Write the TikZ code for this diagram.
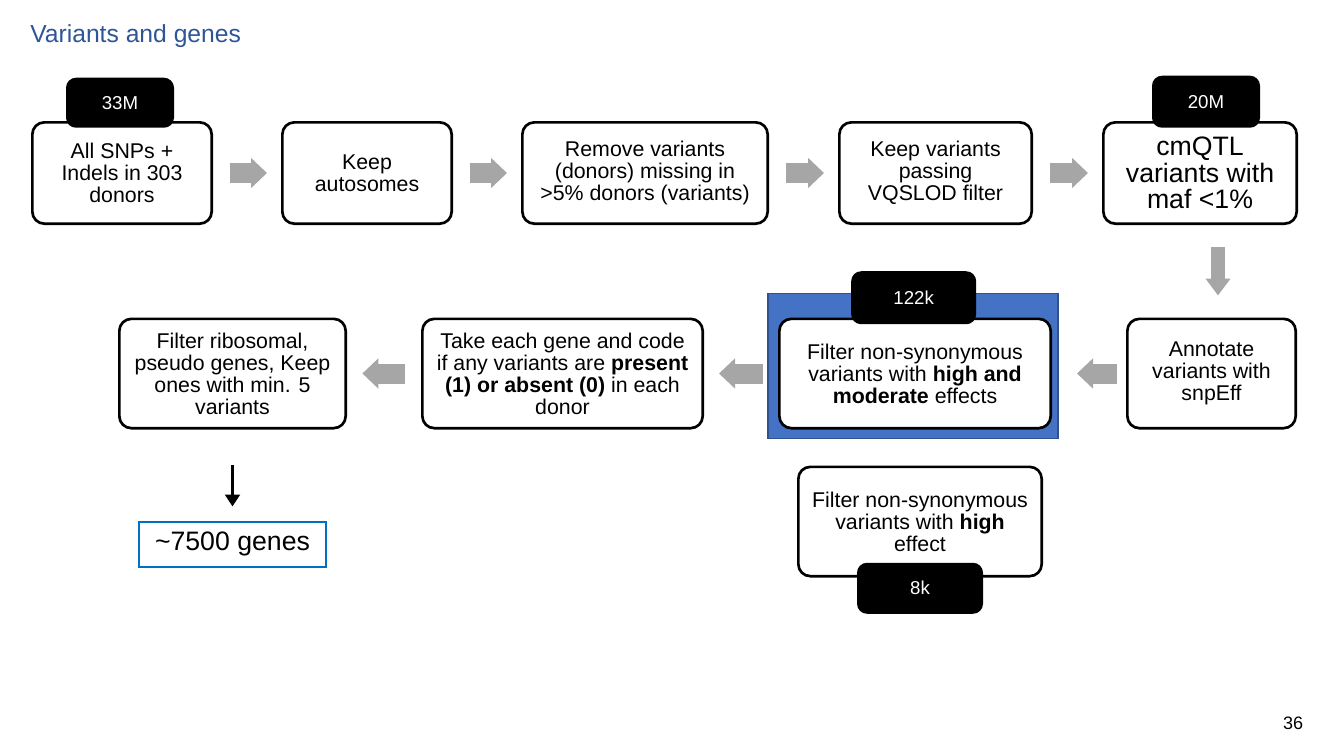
\documentclass[tikz,border=0pt]{standalone}
\usepackage{fontspec}
\setmainfont{Liberation Sans}
\usepackage{xcolor}
\definecolor{titleblue}{HTML}{2F5597}
\definecolor{arrowgray}{HTML}{A6A6A6}
\definecolor{panelblue}{HTML}{4472C4}
\definecolor{paneledge}{HTML}{2F528F}
\definecolor{genesblue}{HTML}{0070C0}
\usepackage{tikz}
\usetikzlibrary{arrows.meta,positioning,calc,backgrounds}
\tikzset{
  stepbox/.style={draw=black, fill=white, line width=2pt, rounded corners=9pt,
                  align=center, inner sep=2pt, minimum height=76pt,
                  font=\fontsize{16}{16.5}\selectfont},
  rowtwo/.style={stepbox, minimum height=82pt},
  tagbox/.style={fill=black, text=white, rounded corners=7.5pt,
                 minimum width=81pt, minimum height=37.5pt,
                 font=\fontsize{14}{14}\selectfont},
  genesbox/.style={draw=genesblue, line width=1.5pt, fill=white,
                   minimum width=140.25pt, minimum height=33.75pt,
                   font=\fontsize{20}{20}\selectfont},
  panel/.style={fill=panelblue, draw=paneledge, line width=0.8pt},
  garrow/.style={draw=arrowgray, line width=15pt, -{Triangle[length=12pt, width=22pt]}},
  garrowv/.style={draw=arrowgray, line width=10.5pt, -{Triangle[length=12.75pt, width=18pt]}},
  karrow/.style={draw=black, line width=2.25pt, -{Triangle[length=9pt, width=11pt]}},
}

\begin{document}
\begin{tikzpicture}[x=0.75pt, y=-0.75pt, node distance=51pt]
  \useasboundingbox (0,0) rectangle (1333,750);
  \node[anchor=base west, inner sep=0pt, text=titleblue,
        font=\fontsize{18.5}{20}\selectfont] (title) at (30,42) {Variants and genes};

  % first row
  \node[stepbox, minimum width=134.5pt] (all) at (122,173) {All SNPs +\\Indels in 303\\donors};
  \node[stepbox, minimum width=127pt, right=of all] (auto) {Keep\\autosomes};
  \node[stepbox, minimum width=184pt, right=of auto] (miss) {Remove variants\\(donors) missing in\\>5\% donors (variants)};
  \node[stepbox, minimum width=144.25pt, right=51.75pt of miss] (vqs) {Keep variants\\passing\\VQSLOD filter};
  \node[stepbox, minimum width=145pt, right=51.75pt of vqs,
        font=\fontsize{20}{20}\selectfont] (maf) {cmQTL\\variants with\\maf <1\%};

  % second row, right to left
  \node[rowtwo, minimum width=126.25pt] (snp) at (1211.5,373.5) {Annotate\\variants with\\snpEff};
  \node[rowtwo, minimum width=203.5pt, left=55.5pt of snp] (mod) {Filter non-synonymous\\variants with \textbf{high and}\\\textbf{moderate} effects};
  \node[rowtwo, minimum width=210.25pt, left=55.5pt of mod] (code) {Take each gene and code\\if any variants are \textbf{present}\\\textbf{(1) or absent (0)} in each\\donor};
  \node[rowtwo, minimum width=169.75pt, left=55.5pt of code] (ribo) {Filter ribosomal,\\pseudo genes, Keep\\ones with min. 5\\variants};
  \node[rowtwo, minimum width=182.5pt, below=27pt of mod, xshift=3.75pt] (high) {Filter non-synonymous\\variants with \textbf{high}\\effect};
  \node[genesbox, below=68.25pt of ribo] (genes) {\textasciitilde7500 genes};

  % counts
  \node[tagbox, above=-5.25pt of all, xshift=-1.5pt] (t33) {33M};
  \node[tagbox, above=-5.25pt of maf, xshift=4.5pt, minimum height=39pt] (t20) {20M};
  \node[tagbox, minimum width=93.75pt, minimum height=39.75pt, above=-5.25pt of mod, xshift=-1pt] (t122) {122k};
  \node[tagbox, minimum width=94.5pt, minimum height=38.25pt, below=-11.25pt of high] (t8) {8k};

  \begin{scope}[on background layer]
    \draw[panel] ([xshift=-7.5pt, yshift=18pt]mod.north west) rectangle ([xshift=4.5pt, yshift=-6.75pt]mod.south east);
  \end{scope}

  % connectors
  \foreach \a/\b in {all/auto, auto/miss, miss/vqs, vqs/maf}
    \draw[garrow, shorten <=12.75pt, shorten >=10.5pt] (\a) -- (\b);
  \foreach \a/\b/\s/\e in {snp/mod/6.75pt/18.75pt, mod/code/11.25pt/11.25pt, code/ribo/12pt/11.5pt}
    \draw[garrow, shorten <=\s, shorten >=\e] (\a) -- (\b);
  \coordinate (dtop) at ([xshift=13.5pt]maf.south);
  \coordinate (dbot) at (dtop |- snp.north);
  \draw[garrowv, shorten <=16.5pt, shorten >=16.5pt] (dtop) -- (dbot);
  \draw[karrow, shorten <=26.25pt, shorten >=10.5pt] (ribo) -- (genes);

  \node[font=\fontsize{13.5}{14}\selectfont] (page) at (1293,723) {36};
\end{tikzpicture}
\end{document}
